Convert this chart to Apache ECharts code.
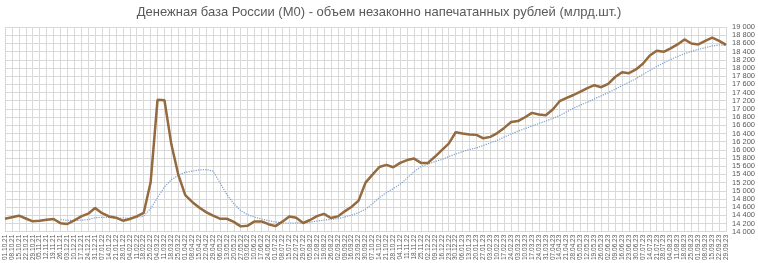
<!DOCTYPE html>
<html><head><meta charset="utf-8">
<script src="https://cdn.jsdelivr.net/npm/echarts@6/dist/echarts.min.js"></script>
<style>html,body{margin:0;padding:0;background:#fff}#c{width:758px;height:263px}</style>
</head><body><div id="c"></div>
<script>
var titleText = 'Денежная база России (М0) - объем незаконно напечатанных рублей (млрд.шт.)';
var dates = [
'01.10.21','08.10.21','15.10.21','22.10.21','29.10.21','05.11.21','12.11.21','19.11.21','26.11.21','03.12.21',
'10.12.21','17.12.21','24.12.21','31.12.21','07.01.22','14.01.22','21.01.22','28.01.22','04.02.22','11.02.22',
'18.02.22','25.02.22','04.03.22','11.03.22','18.03.22','25.03.22','01.04.22','08.04.22','15.04.22','22.04.22',
'29.04.22','06.05.22','13.05.22','20.05.22','27.05.22','03.06.22','10.06.22','17.06.22','24.06.22','01.07.22',
'08.07.22','15.07.22','22.07.22','29.07.22','05.08.22','12.08.22','19.08.22','26.08.22','02.09.22','09.09.22',
'16.09.22','23.09.22','30.09.22','07.10.22','14.10.22','21.10.22','28.10.22','04.11.22','11.11.22','18.11.22',
'25.11.22','02.12.22','09.12.22','16.12.22','23.12.22','30.12.22','06.01.23','13.01.23','20.01.23','27.01.23',
'03.02.23','10.02.23','17.02.23','24.02.23','03.03.23','10.03.23','17.03.23','24.03.23','31.03.23','07.04.23',
'14.04.23','21.04.23','28.04.23','05.05.23','12.05.23','19.05.23','26.05.23','02.06.23','09.06.23','16.06.23',
'23.06.23','30.06.23','07.07.23','14.07.23','21.07.23','28.07.23','04.08.23','11.08.23','18.08.23','25.08.23',
'01.09.23','08.09.23','15.09.23','22.09.23','29.09.23'
];
var m0 = [
14318,14355,14391,14323,14254,14269,14291,14310,14208,14188,
14276,14374,14440,14580,14452,14372,14342,14269,14310,14374,
14457,15200,17220,17210,16128,15390,14893,14726,14592,14479,
14391,14318,14316,14240,14130,14147,14252,14252,14183,14135,
14245,14372,14340,14213,14286,14379,14435,14335,14374,14497,
14611,14758,15199,15394,15580,15631,15573,15680,15749,15786,
15680,15680,15830,15994,16152,16429,16397,16373,16365,16282,
16316,16409,16536,16678,16703,16796,16903,16862,16845,16984,
17187,17270,17339,17424,17508,17579,17530,17613,17779,17897,
17872,17963,18102,18305,18422,18395,18476,18574,18696,18598,
18574,18660,18738,18660,18562
];
var m0Avg = [
null,null,null,null,null,null,null,null,14294,14279,
14276,14281,14294,14342,14350,14347,14335,14335,14335,14347,
14379,14563,14832,15093,15272,15378,15451,15478,15509,15517,
15480,15199,14905,14685,14514,14416,14355,14311,14269,14237,
14213,14213,14213,14220,14232,14262,14281,14301,14318,14360,
14404,14465,14550,14685,14832,14954,15052,15162,15309,15468,
15590,15651,15712,15761,15835,15896,15957,16006,16047,16104,
16172,16231,16312,16385,16458,16519,16581,16642,16703,16769,
16837,16927,17016,17094,17165,17241,17320,17395,17481,17569,
17652,17738,17840,17938,18036,18122,18207,18281,18347,18403,
18452,18494,18538,18562,18550
];
var chart = echarts.init(document.getElementById('c'), null, {renderer:'canvas'});
chart.setOption({
  animation:false,
  backgroundColor:'#fff',
  title:{text:titleText,left:'center',top:1,textStyle:{fontFamily:'Liberation Sans',fontSize:13,fontWeight:'normal',color:'#595959'}},
  grid:{left:5,right:31,top:27,bottom:31,containLabel:false},
  xAxis:{type:'category',data:dates,boundaryGap:false,
    axisLine:{show:true,lineStyle:{color:'#d9d9d9'}},axisTick:{show:false},
    axisLabel:{interval:0,rotate:90,fontSize:6.5,color:'#595959',fontFamily:'Liberation Sans',margin:3},
    splitLine:{show:true,interval:0,lineStyle:{color:'#d9d9d9',width:1}}},
  yAxis:{type:'value',position:'right',min:14000,max:19000,interval:200,
    axisLine:{show:false},axisTick:{show:false},
    axisLabel:{fontSize:7.5,color:'#595959',fontFamily:'Liberation Sans',margin:6,
      formatter:function(v){return String(v).replace(/\B(?=(\d{3})+(?!\d))/g,' ');}},
    splitLine:{lineStyle:{color:'#d9d9d9',width:1}}},
  series:[
    {type:'line',data:m0,symbol:'none',lineStyle:{color:'#946a3e',width:2.5},z:3},
    {type:'line',data:m0Avg,symbol:'none',connectNulls:false,lineStyle:{color:'#7f9fc8',width:1.2,type:'dotted'},z:2}
  ]
});
</script></body></html>
